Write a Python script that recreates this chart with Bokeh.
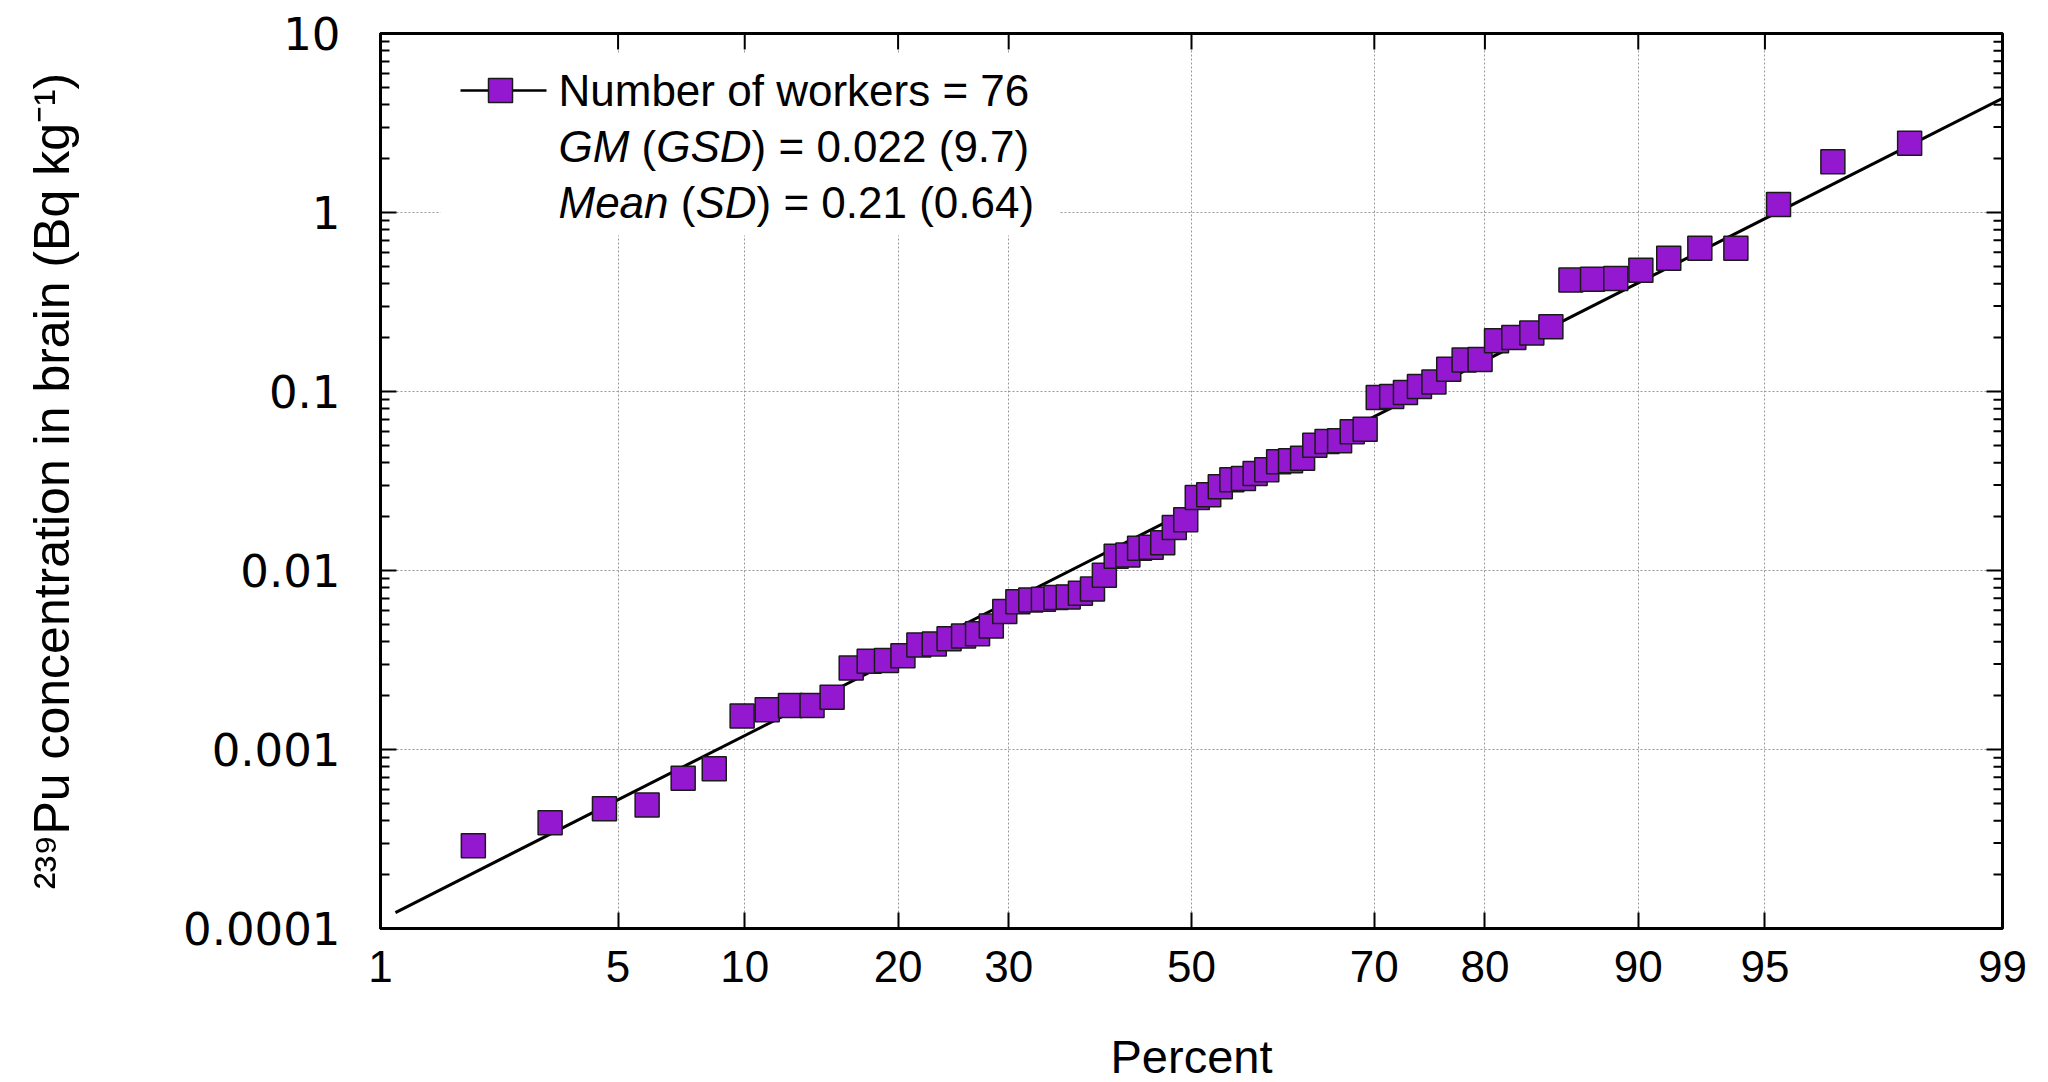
from statistics import NormalDist
from bokeh.plotting import figure
from bokeh.models import (Range1d, FixedTicker, CustomJSTickFormatter,
                          PrintfTickFormatter, Label, BoxAnnotation)
from bokeh.embed import file_html
from bokeh.resources import INLINE

# ---------------- data ----------------
percent = [1.97, 3.29, 4.61, 5.92, 7.24, 8.55, 9.87, 11.18, 12.50, 13.82,
           15.13, 16.45, 17.76, 19.08, 20.39, 21.71, 23.03, 24.34, 25.66, 26.97,
           28.29, 29.61, 30.92, 32.24, 33.55, 34.87, 36.18, 37.50, 38.82, 40.13,
           41.45, 42.76, 44.08, 45.39, 46.71, 48.03, 49.34, 50.66, 51.97, 53.29,
           54.61, 55.92, 57.24, 58.55, 59.87, 61.18, 62.50, 63.82, 65.13, 66.45,
           67.76, 69.08, 70.39, 71.71, 73.03, 74.34, 75.66, 76.97, 78.29, 79.61,
           80.92, 82.24, 83.55, 84.87, 86.18, 87.50, 88.82, 90.13, 91.45, 92.76,
           94.08, 95.39, 96.71, 98.03]
conc = [0.00029, 0.00039, 0.000467, 0.000489, 0.00069, 0.00078, 0.00154, 0.00167, 0.00176, 0.00176,
        0.00196, 0.00285, 0.00311, 0.00314, 0.00334, 0.00384, 0.00389, 0.00415, 0.0043, 0.00443,
        0.00489, 0.0059, 0.0067, 0.00685, 0.0069, 0.00706, 0.0071, 0.00747, 0.00787, 0.0094,
        0.0120, 0.0122, 0.0133, 0.0135, 0.0143, 0.0174, 0.0192, 0.0256, 0.0265, 0.0294,
        0.0321, 0.0327, 0.0348, 0.0365, 0.0405, 0.0410, 0.0424, 0.0501, 0.0526, 0.0530,
        0.0596, 0.0615, 0.0925, 0.0937, 0.0987, 0.1067, 0.113, 0.133, 0.150, 0.151,
        0.192, 0.200, 0.212, 0.230, 0.419, 0.424, 0.428, 0.476, 0.556, 0.632,
        0.632, 1.11, 1.92, 2.44]
n_workers = 76
gm, gsd = 0.022, 9.7
mean, sd = 0.21, 0.64
fit_percent = [1.12, 99.0]
x_tick_percent = [1, 5, 10, 20, 30, 50, 70, 80, 90, 95, 99]
y_ticks = [0.0001, 0.001, 0.01, 0.1, 1, 10]
y_minor = [k * 10.0 ** e for e in range(-4, 1) for k in range(2, 10)]

nd = NormalDist()
def probit(pc):
    return nd.inv_cdf(pc / 100.0)

z = [probit(v) for v in percent]
x_ticks = [probit(v) for v in x_tick_percent]
x_labels = [str(v) for v in x_tick_percent]
fit_z = [probit(v) for v in fit_percent]
fit_y = [gm * gsd ** zz for zz in fit_z]

# ---------------- layout ----------------
FW, FH = 1622, 895
zmin, zmax = x_ticks[0], x_ticks[-1]

def fx(px):  # frame px from left -> data x
    return zmin + px * (zmax - zmin) / FW

def fy(py):  # frame px from top -> data y (log)
    return 10 ** (1 - py * 5.0 / FH)

SANS = "Liberation Sans"
PURPLE = "#9418D0"
MAJ, MIN = 16, 9

p = figure(frame_width=FW, frame_height=FH,
           x_range=Range1d(zmin, zmax), y_range=Range1d(1e-4, 10),
           y_axis_type="log", output_backend="svg", toolbar_location=None,
           min_border_left=380, min_border_right=40, min_border_top=33, min_border_bottom=150,
           background_fill_color="white", border_fill_color="white")
p.outline_line_color = "black"
p.outline_line_width = 3

# grids
p.xgrid.ticker = FixedTicker(ticks=x_ticks)
p.ygrid.ticker = FixedTicker(ticks=y_ticks)
for g in (p.xgrid[0], p.ygrid[0]):
    g.grid_line_color = "#999999"
    g.grid_line_dash = "2 2"
    g.grid_line_width = 1
    g.minor_grid_line_color = None

xfmt = CustomJSTickFormatter(args=dict(zs=x_ticks, labels=x_labels), code="""
let best = 0;
for (let i = 0; i < zs.length; i++) {
  if (Math.abs(zs[i] - tick) < Math.abs(zs[best] - tick)) best = i;
}
return labels[best];
""")

def style_axis(ax):
    ax.axis_line_color = "black"
    ax.axis_line_width = 3
    ax.major_tick_line_color = "black"
    ax.major_tick_line_width = 2
    ax.major_tick_in = MAJ
    ax.major_tick_out = 0
    ax.minor_tick_line_color = "black"
    ax.minor_tick_line_width = 2
    ax.minor_tick_in = MIN
    ax.minor_tick_out = 0

# bottom axis
xa = p.xaxis[0]
xa.ticker = FixedTicker(ticks=x_ticks, minor_ticks=[])
xa.formatter = xfmt
style_axis(xa)
xa.major_label_text_font = SANS
xa.major_label_text_font_size = "44px"
xa.major_label_text_color = "black"
xa.major_label_standoff = 22
xa.axis_label = "Percent"
xa.axis_label_text_font = SANS
xa.axis_label_text_font_size = "47px"
xa.axis_label_text_font_style = "normal"
xa.axis_label_text_color = "black"
xa.axis_label_standoff = 45

# left axis
ya = p.yaxis[0]
ya.ticker = FixedTicker(ticks=y_ticks, minor_ticks=y_minor)
ya.formatter = PrintfTickFormatter(format="%g")
style_axis(ya)
ya.major_label_text_font = "DejaVu Sans"
ya.major_label_text_font_size = "45px"
ya.major_label_text_color = "black"
ya.major_label_standoff = 40
ya.axis_label = "\u00b2\u00b3\u2079Pu concentration in brain (Bq kg\u207b\u00b9)"
ya.axis_label_text_font = SANS
ya.axis_label_text_font_size = "50px"
ya.axis_label_text_font_style = "normal"
ya.axis_label_text_color = "black"
ya.axis_label_standoff = 100

# ticks on top and right edges of the frame (drawn from the tick lists)
top_y0 = [y_ticks[-1]] * len(x_ticks)
top_y1 = [fy(MAJ)] * len(x_ticks)
p.segment(x0=x_ticks, y0=top_y0, x1=x_ticks, y1=top_y1, line_color="black", line_width=2)
p.segment(x0=[zmax] * len(y_ticks), y0=y_ticks, x1=[fx(FW - MAJ)] * len(y_ticks), y1=y_ticks,
          line_color="black", line_width=2)
p.segment(x0=[zmax] * len(y_minor), y0=y_minor, x1=[fx(FW - MIN)] * len(y_minor), y1=y_minor,
          line_color="black", line_width=2)

# legend background
box = BoxAnnotation(left=fx(60), right=fx(679), bottom=fy(202), top=fy(20),
                    fill_color="white", fill_alpha=1.0, line_color=None, level="underlay")
p.add_layout(box)

# data
p.line(fit_z, fit_y, line_color="black", line_width=3)
p.scatter(z, conc, marker="square", size=24, fill_color=PURPLE,
          line_color="#1a1a1a", line_width=1.5)

# manual legend
ly1, ly2, ly3 = fy(57), fy(113), fy(169)
p.line([fx(80), fx(166)], [ly1, ly1], line_color="black", line_width=2.5)
p.scatter([fx(120)], [ly1], marker="square", size=24, fill_color=PURPLE,
          line_color="#1a1a1a", line_width=1.5)

FS = 44
TX = 178
def lab(text, dx, y, italic=False):
    p.add_layout(Label(x=fx(TX + dx), y=y, text=text, text_font=SANS,
                       text_font_size=f"{FS}px", text_baseline="middle",
                       text_align="left", text_color="black",
                       text_font_style="italic" if italic else "normal"))

lab(f"Number of workers = {n_workers}", 0, ly1)
lab("GM", 0, ly2, True)
lab("(", 83.1, ly2)
lab("GSD", 97.8, ly2, True)
lab(f") = {gm} ({gsd})", 193.1, ly2)
lab("Mean", 0, ly3, True)
lab("(", 122.3, ly3)
lab("SD", 136.9, ly3, True)
lab(f") = {mean} ({sd})", 198.0, ly3)

open("out.html", "w").write(file_html(p, INLINE))
